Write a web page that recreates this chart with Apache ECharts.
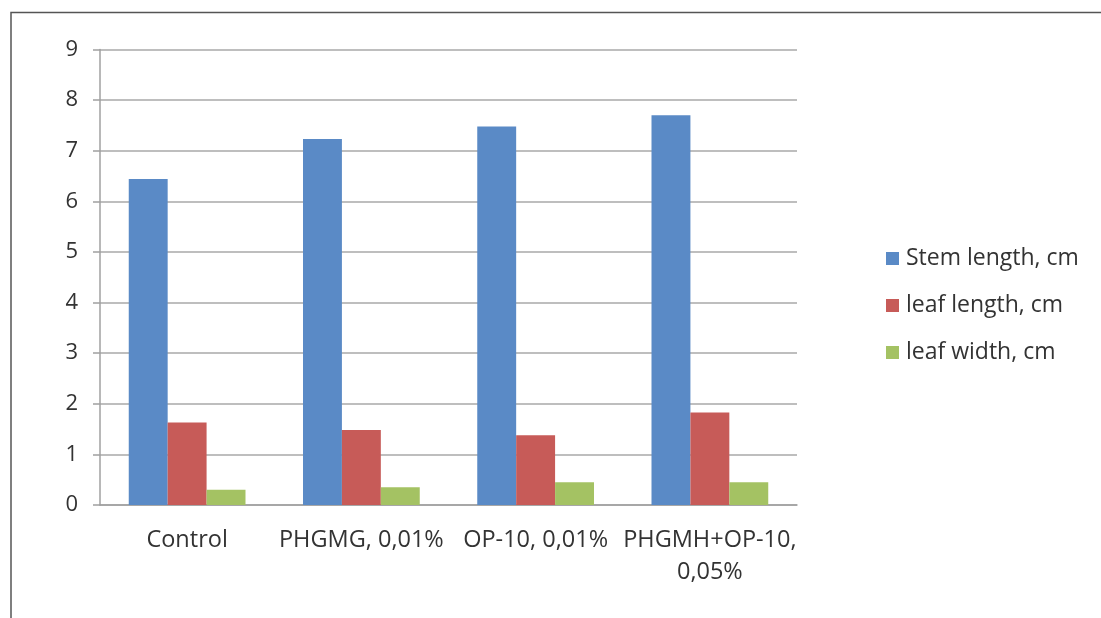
<!DOCTYPE html>
<html>
<head>
<meta charset="utf-8">
<script src="https://cdn.jsdelivr.net/npm/echarts@6/dist/echarts.min.js"></script>
<style>html,body{margin:0;padding:0;background:#fff}#c{width:1101px;height:618px}</style>
</head>
<body>
<div id="c"></div>
<script>
const categories = ['Control', 'PHGMG, 0,01%', 'OP-10, 0,01%', 'PHGMH+OP-10,\n0,05%'];
const stemLength = [6.44, 7.23, 7.48, 7.70];
const leafLength = [1.63, 1.48, 1.38, 1.83];
const leafWidth = [0.30, 0.35, 0.45, 0.45];
const seriesNames = ['Stem length, cm', 'leaf length, cm', 'leaf width, cm'];
const yTicks = [0, 1, 2, 3, 4, 5, 6, 7, 8, 9];

const FONT = 'Open Sans';
const chart = echarts.init(document.getElementById('c'));
const mk = (name, data, color) => ({
  name, type: 'bar', data, barGap: '0%', barCategoryGap: '33%',
  itemStyle: { color }
});
chart.setOption({
  animation: false,
  textStyle: { fontFamily: FONT },
  grid: { left: 100, right: 304, top: 49.5, bottom: 113, containLabel: false },
  legend: {
    orient: 'vertical', left: 881, top: 242,
    itemWidth: 13, itemHeight: 13, itemGap: 24, itemGap: 24,
    icon: 'rect',
    textStyle: { fontFamily: FONT, fontSize: 23, color: '#333', lineHeight: 23, padding: [0, 0, 0, 2] },
    data: seriesNames
  },
  xAxis: {
    type: 'category', data: categories,
    axisLine: { lineStyle: { color: '#a0a0a0', width: 1.5 } },
    axisTick: { show: false },
    axisLabel: { fontFamily: FONT, fontSize: 23.5, color: '#333', margin: 19, lineHeight: 32, interval: 0 }
  },
  yAxis: {
    type: 'value', min: 0, max: 9, interval: 1,
    axisLine: { show: true, lineStyle: { color: '#a0a0a0', width: 1.5 } },
    axisTick: { show: true, length: 7, lineStyle: { color: '#a0a0a0', width: 1.5 } },
    splitLine: { lineStyle: { color: '#a8a8a8', width: 1.5 } },
    axisLabel: { fontFamily: FONT, fontSize: 22, color: '#333', margin: 22,
      formatter: v => yTicks.includes(v) ? String(v) : '' }
  },
  graphic: [{
    type: 'polyline', silent: true,
    shape: { points: [[11, 618], [11, 12.5], [1101, 12.5]] },
    style: { stroke: '#555', lineWidth: 1.5, fill: null }
  }],
  series: [
    mk(seriesNames[0], stemLength, '#5A8AC6'),
    mk(seriesNames[1], leafLength, '#C75B58'),
    mk(seriesNames[2], leafWidth, '#A4C263')
  ]
});
</script>
</body>
</html>
